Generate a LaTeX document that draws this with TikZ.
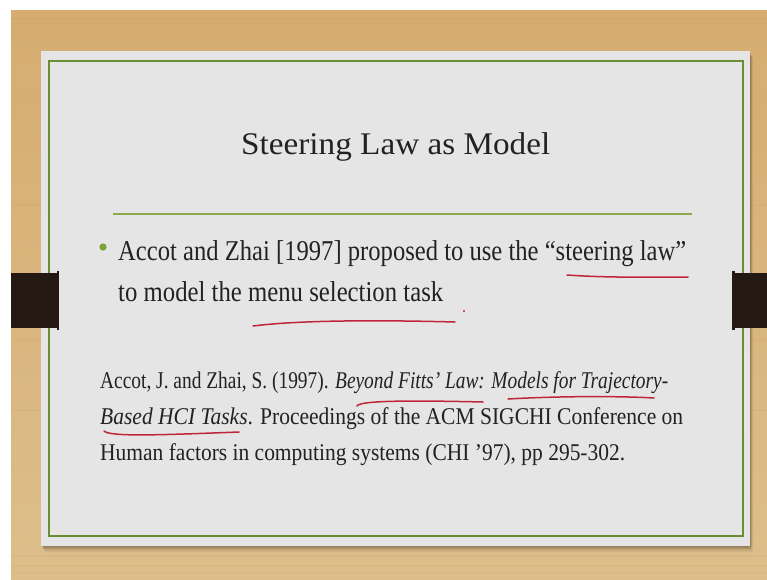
\documentclass[tikz,border=0pt]{standalone}
\usepackage{fontspec}
\usepackage{graphicx}
\setmainfont{Liberation Serif}

\definecolor{woodtop}{HTML}{D6AC70}
\definecolor{woodmid}{HTML}{E0C28E}
\definecolor{woodbot}{HTML}{DDBE8A}
\definecolor{grain}{HTML}{C99E62}
\definecolor{slidegrey}{HTML}{E5E5E5}
\definecolor{framegreen}{HTML}{6B8E35}
\definecolor{rulegreen}{HTML}{8AAA4C}
\definecolor{dotgreen}{HTML}{7BA232}
\definecolor{ink}{HTML}{222222}
\definecolor{penred}{HTML}{C0263A}
\definecolor{clipbrown}{HTML}{231912}

% a line of text stretched horizontally to a given width, baseline kept
\newcommand{\fitline}[2]{\resizebox{#1}{\height}{#2}}

\tikzset{
  txt/.style={inner sep=0pt, anchor=base west, text=ink},
  titletxt/.style={txt, font=\fontsize{31.5}{36}\selectfont},
  bodytxt/.style={txt, font=\fontsize{28.7}{34}\selectfont},
  reftxt/.style={txt, font=\fontsize{24}{29}\selectfont},
  penstroke/.style={draw=penred, line width=1.5pt, line cap=round},
}

\begin{document}
\begin{tikzpicture}[x=1pt, y=-1pt]
\useasboundingbox (0,0) rectangle (767,579);
\fill[white] (0,0) rectangle (767,579);

% wooden backdrop with a faint horizontal grain
\shade[top color=woodtop, middle color=woodmid, bottom color=woodbot] (11,10) rectangle (767,579);
\fill[woodtop, opacity=0.6] (11,10) rectangle (767,30);
\foreach \y/\a in {18/0.25, 24/0.2, 36/0.15, 47/0.12, 96/0.1, 150/0.12, 205/0.1, 340/0.1, 410/0.12, 470/0.1, 556/0.12, 566/0.15, 573/0.1}{
  \draw[grain, opacity=\a, line width=1.2pt] (11,\y) -- (767,\y);
}

% soft shadow under the slide
\foreach \o/\a in {6/0.05, 4.5/0.07, 3/0.10, 1.5/0.12}{
  \fill[black, opacity=\a, rounded corners=2pt] (41+0.5*\o,51+\o) rectangle (750+0.5*\o,546+\o);
}

% slide and its green frame
\fill[slidegrey] (41,51) rectangle (750,546);
\draw[framegreen, line width=2.2pt] (49,61) rectangle (743,536);

% black clips on both sides, with their small end lips
\fill[clipbrown] (11,273) rectangle (58,328);
\fill[clipbrown] (56.5,271) rectangle (59,330);
\fill[clipbrown] (733,273) rectangle (767,328);
\fill[clipbrown] (732,271) rectangle (734.5,330);

% title and its rule
\node[titletxt] (title) at (241,154) {\fitline{309pt}{Steering Law as Model}};
\coordinate (ruleL) at (113,214);
\coordinate (ruleR) at (692,214);
\draw[rulegreen, line width=1.6pt] (ruleL) -- (ruleR);

% bullet
\fill[dotgreen] (103,247) circle (3.6);
\node[bodytxt] (b1) at (118,260) {\fitline{568pt}{Accot and Zhai [1997] proposed to use the “steering law”}};
\node[bodytxt] (b2) at (118,301) {\fitline{325pt}{to model the menu selection task}};

% reference
\node[reftxt] (r1) at (100,388) {\fitline{568pt}{Accot, J. and Zhai, S. (1997). \textit{Beyond Fitts’ Law: Models for Trajectory-}}};
\node[reftxt] (r2) at (100,424) {\fitline{583pt}{\textit{Based HCI Tasks}. Proceedings of the ACM SIGCHI Conference on}};
\node[reftxt] (r3) at (100,460) {\fitline{525pt}{Human factors in computing systems (CHI ’97), pp 295-302.}};

% hand-drawn underlines
\draw[penstroke] (567,275) .. controls (610,278) and (650,277) .. (688,277);
\draw[penstroke] (253,326) .. controls (300,320) and (380,320) .. (455,322);
\fill[penred] (464,311) circle (1.1);
\draw[penstroke] (357,406) .. controls (359,401) and (400,400) .. (483,402);
\draw[penstroke] (508,399) .. controls (560,396) and (620,396) .. (654,398);
\draw[penstroke] (104,431) .. controls (110,437) and (160,435) .. (239,432);
\end{tikzpicture}
\end{document}
